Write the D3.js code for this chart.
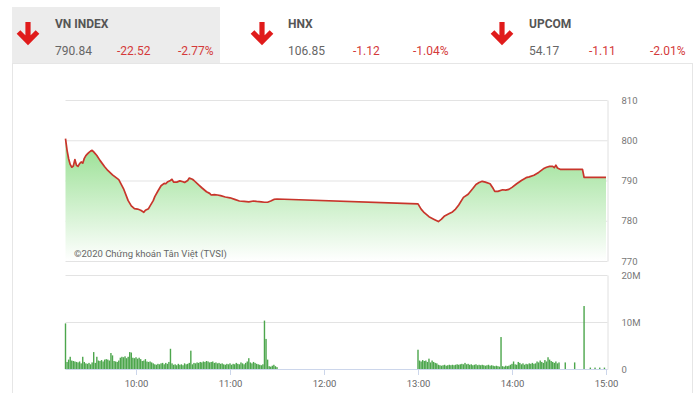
<!DOCTYPE html>
<html><head><meta charset="utf-8">
<script src="https://cdn.jsdelivr.net/npm/d3@7/dist/d3.min.js"></script>
<style>
html,body{margin:0;padding:0;background:#fff;}
svg{display:block;font-family:Roboto,"Open Sans",sans-serif;}
</style></head>
<body><svg id="c" width="700" height="393"></svg>
<script>
// ---- header data ----
const indexNames = ["VN INDEX", "HNX", "UPCOM"];
const indexValues = ["790.84", "106.85", "54.17"];
const indexChanges = ["-22.52", "-1.12", "-1.11"];
const indexPercents = ["-2.77%", "-1.04%", "-2.01%"];

// ---- price series (VN-Index intraday) ----
const priceTimes = ["9:15","9:16","9:17","9:18","9:19","9:20","9:21","9:22","9:23","9:24","9:25","9:26","9:27","9:28","9:29","9:30","9:31","9:32","9:33","9:35","9:37","9:40","9:42","9:45","9:49","9:52","9:55","9:57","9:59","10:01","10:03","10:05","10:06","10:08","10:09","10:11","10:12","10:14","10:16","10:18","10:19","10:20","10:22","10:23","10:24","10:26","10:28","10:30","10:31","10:33","10:34","10:36","10:37","10:40","10:42","10:45","10:47","10:48","10:50","10:52","10:54","10:57","11:00","11:03","11:06","11:09","11:12","11:15","11:17","11:20","11:22","11:24","11:26","11:28","11:30","13:00","13:02","13:04","13:07","13:10","13:13","13:15","13:17","13:20","13:22","13:24","13:26","13:29","13:32","13:35","13:37","13:39","13:41","13:43","13:46","13:48","13:49","13:51","13:54","13:56","13:58","14:00","14:03","14:06","14:09","14:11","14:14","14:17","14:20","14:22","14:24","14:26","14:27","14:28","14:29","14:31","14:45","14:46","15:00"];
const priceValues = [800.4,797.5,795.4,794.0,793.3,793.6,795.2,793.8,793.5,794.2,794.6,794.3,795.5,796.2,796.6,797.0,797.3,797.5,797.1,796.2,795.0,793.4,792.5,791.4,790.2,788.0,785.0,783.7,783.0,782.9,782.6,782.1,782.6,783.0,783.7,785.0,786.0,787.4,788.7,789.3,789.2,789.6,790.0,790.3,789.6,789.6,789.9,789.7,789.5,790.0,790.6,790.3,790.0,788.9,788.2,787.2,786.8,786.4,786.5,786.4,786.25,785.9,785.7,785.3,784.9,784.8,784.7,784.9,784.8,784.7,784.6,784.6,784.9,785.3,785.4,784.2,782.9,782.0,781.0,780.4,779.8,780.4,781.2,781.8,782.2,782.9,783.9,785.8,786.6,788.0,789.0,789.5,789.8,789.6,789.2,788.0,787.3,787.3,787.7,787.6,787.8,788.3,789.2,790.0,790.7,790.9,791.3,792.0,792.9,793.3,793.5,793.5,793.2,793.8,793.1,792.75,792.75,790.8,790.8];

// ---- volume (millions) per minute ----
const volMorningStart = "9:15";
const volMorning = [9.7,1.5,2.0,2.6,1.8,1.7,1.6,1.5,1.4,1.6,1.2,2.6,1.5,1.2,1.1,1.3,1.0,1.4,3.6,1.3,2.6,1.8,1.7,1.9,1.6,2.0,2.1,2.0,1.8,3.4,2.9,1.7,1.6,1.5,1.8,2.4,2.6,2.5,2.7,2.3,2.6,3.6,3.5,2.4,2.3,2.5,2.2,2.4,2.1,1.7,1.8,2.1,1.6,1.5,1.6,1.4,1.2,1.0,0.9,1.1,1.0,1.2,1.3,1.0,1.3,1.1,1.5,4.3,1.2,0.9,1.0,0.8,1.1,0.9,1.0,0.8,1.2,1.0,1.1,1.3,3.9,1.0,1.3,1.2,1.4,1.3,1.5,1.4,1.6,1.5,1.7,1.6,1.4,1.5,1.6,1.3,1.4,1.2,1.3,1.1,1.2,1.0,0.9,1.1,1.0,1.2,0.9,1.1,1.0,1.3,1.1,1.0,1.4,1.2,1.0,1.3,1.6,2.3,1.4,1.2,1.5,1.3,1.1,1.0,0.9,0.8,1.0,10.3,6.4,2.0,0.6,0.5,0.7,0.9,0.6,0.4];
const volAfternoonStart = "13:00";
const volAfternoon = [4.1,1.8,1.6,1.9,1.7,1.8,1.5,2.2,1.4,1.8,1.5,1.3,1.2,0.9,0.8,0.7,0.8,0.9,0.7,0.8,0.9,0.8,0.9,0.8,0.9,1.0,0.9,1.0,1.1,1.0,1.3,1.0,1.1,0.9,1.0,0.8,0.9,1.0,0.8,0.9,0.8,0.9,0.8,0.7,0.8,0.9,0.7,0.8,0.7,0.6,0.7,0.6,0.5,6.8,0.6,0.5,0.7,0.6,0.7,0.9,1.1,1.6,1.0,0.9,1.5,1.3,1.0,1.2,0.9,1.1,1.0,1.2,1.1,1.3,1.1,1.2,1.6,1.4,1.8,1.5,1.3,1.9,1.6,2.5,2.0,1.7,1.5,1.3,1.6,1.2,1.4];
const volLateTimes = ["14:34","14:40","14:46","14:50","14:53","14:56","14:59"];
const volLate = [1.4,1.4,13.4,0.3,0.3,0.3,0.3];

// ---- axes ----
const timeTicks = ["10:00","11:00","12:00","13:00","14:00","15:00"];
const priceTicks = [770,780,790,800,810];
const volTicks = [0,10,20];
const watermark = "©2020 Chứng khoán Tân Việt (TVSI)";

// ---- helpers ----
const T = s => { const [h,m] = s.split(":").map(Number); return new Date(2020,2,9,h,m); };
const addMin = (d,k) => new Date(d.getTime()+k*60000);

const svg = d3.select("#c");

// header
svg.append("rect").attr("x",12).attr("y",7).attr("width",208).attr("height",56).attr("fill","#ececec");
svg.append("rect").attr("x",12.5).attr("y",63.5).attr("width",680).attr("height",340)
  .attr("fill","none").attr("stroke","#e6e6e6");
const hdrX = [55,288,529], arrowX = [28,262,502];
const chgX = [117,353,589], pctX = [178,413,650];
indexNames.forEach((n,i)=>{
  const a = arrowX[i];
  svg.append("path")
    .attr("d",`M${a},22 L${a},40 M${a-9.5},32 L${a},41.5 L${a+9.5},32`)
    .attr("fill","none").attr("stroke","#e01b1b").attr("stroke-width",5.2).attr("stroke-linejoin","miter");
  svg.append("text").attr("x",hdrX[i]).attr("y",28).text(n)
    .attr("font-size",12).attr("font-weight","bold").attr("fill","#555");
  svg.append("text").attr("x",hdrX[i]).attr("y",54.5).text(indexValues[i])
    .attr("font-size",12).attr("fill","#666");
  svg.append("text").attr("x",chgX[i]).attr("y",54.5).text(indexChanges[i])
    .attr("font-size",12).attr("fill","#d43a3a");
  svg.append("text").attr("x",pctX[i]).attr("y",54.5).text(indexPercents[i])
    .attr("font-size",12).attr("fill","#d43a3a");
});

// scales
const L = 65.5, R = 607.5;
const x = d3.scaleTime().domain([T("9:15"), T("15:00")]).range([L, 606]);
const yP = d3.scaleLinear().domain([770,810]).range([261,100]);
const yV = d3.scaleLinear().domain([0,20]).range([369,275]);

// price grid + right axis
const gP = svg.append("g").attr("transform",`translate(${R},0)`)
  .call(d3.axisRight(yP).tickValues(priceTicks).tickSize(-(R-L)).tickSizeOuter(0).tickPadding(14).tickFormat(d3.format("d")));
gP.select(".domain").attr("stroke","#e0e0e0");
gP.selectAll(".tick line").attr("stroke","#e3e3e3");
gP.selectAll(".tick text").attr("fill","#777").attr("font-size",9.5).attr("font-family","Roboto,sans-serif");

// area gradient
const defs = svg.append("defs");
const grad = defs.append("linearGradient").attr("id","g").attr("gradientUnits","userSpaceOnUse")
  .attr("x1",0).attr("x2",0).attr("y1",100).attr("y2",261);
grad.append("stop").attr("offset",0).attr("stop-color","#72d46a");
grad.append("stop").attr("offset",1).attr("stop-color","#ffffff");

const pData = priceTimes.map((t,i)=>({t:T(t), v:priceValues[i]}));
svg.append("path").datum(pData)
  .attr("d", d3.area().x(d=>x(d.t)).y0(yP(770)).y1(d=>yP(d.v)))
  .attr("fill","url(#g)");
svg.append("path").datum(pData)
  .attr("d", d3.line().x(d=>x(d.t)).y(d=>yP(d.v)))
  .attr("fill","none").attr("stroke","#c8352b").attr("stroke-width",1.7).attr("stroke-linejoin","round");

svg.append("text").attr("x",74).attr("y",257).text(watermark)
  .attr("font-size",9.5).attr("fill","#666");

// volume grid + right axis
const gV = svg.append("g").attr("transform",`translate(${R},0)`)
  .call(d3.axisRight(yV).tickValues(volTicks).tickSize(-(R-L)).tickSizeOuter(0).tickPadding(14)
    .tickFormat(d=> d===0 ? "0" : d+"M"));
gV.select(".domain").attr("stroke","#e0e0e0");
gV.selectAll(".tick line").attr("stroke","#e3e3e3");
gV.selectAll(".tick text").attr("fill","#777").attr("font-size",9.5).attr("font-family","Roboto,sans-serif");

// volume bars
const vData = [];
volMorning.forEach((v,i)=>vData.push({t:addMin(T(volMorningStart),i), v}));
volAfternoon.forEach((v,i)=>vData.push({t:addMin(T(volAfternoonStart),i), v}));
volLateTimes.forEach((t,i)=>vData.push({t:T(t), v:volLate[i]}));
svg.append("g").selectAll("rect").data(vData).join("rect")
  .attr("x", d=>x(d.t)-0.7).attr("width",1.4)
  .attr("y", d=>yV(d.v)).attr("height", d=>yV(0)-yV(d.v))
  .attr("fill","#4ca64c");

// time axis
const gX = svg.append("g").attr("transform","translate(0,369)")
  .call(d3.axisBottom(x).tickValues(timeTicks.map(T)).tickSize(6).tickSizeOuter(0).tickPadding(5)
    .tickFormat(d3.timeFormat("%H:%M")));
gX.select(".domain").attr("stroke","#ccd6eb").attr("d",`M${L},0.5H${R}`);
gX.selectAll(".tick line").attr("stroke","#ccd6eb");
gX.selectAll(".tick text").attr("fill","#666").attr("font-size",9.5).attr("font-family","Roboto,sans-serif");
</script></body></html>
